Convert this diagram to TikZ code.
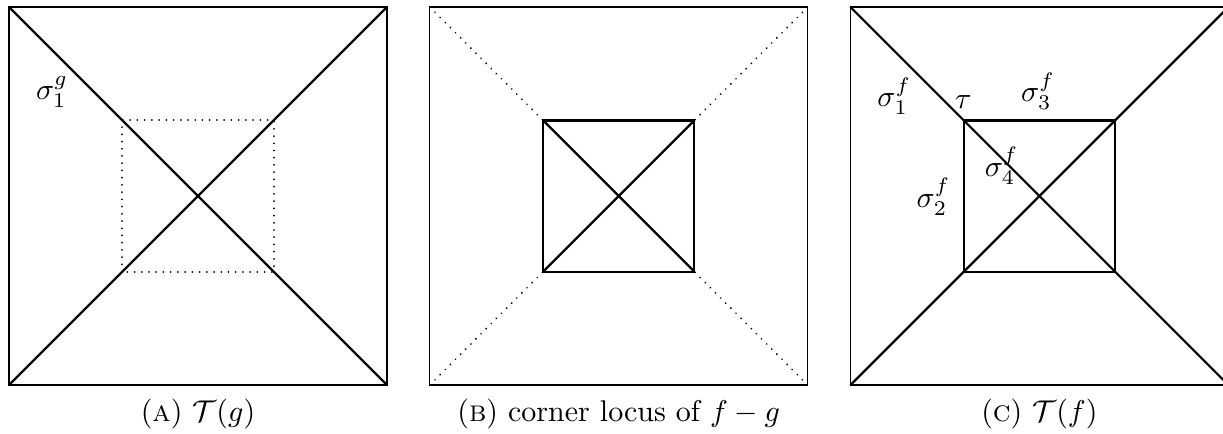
\documentclass[tikz,border=0pt]{standalone}
\usetikzlibrary{positioning,calc}
\begin{document}
\begin{tikzpicture}[x=0.886cm,y=0.886cm,
  outerbox/.style={line width=0.4pt},
  edge/.style={line width=0.75pt},
  dots/.style={line width=0.65pt,dash pattern=on 0.01pt off 2.4pt,line cap=round},
  lab/.style={inner sep=0pt}]
\useasboundingbox (-2.619,-3.135) rectangle (13.558,2.593);
% corners of the outer and inner squares of each panel
\foreach \p/\x in {A/0,B/5.565,C/11.13}{
  \coordinate (\p-c) at (\x,0);
  \coordinate (\p-sw) at (\x-2.5,-2.5);
  \coordinate (\p-se) at (\x+2.5,-2.5);
  \coordinate (\p-ne) at (\x+2.5,2.5);
  \coordinate (\p-nw) at (\x-2.5,2.5);
  \coordinate (\p-isw) at (\x-1,-1);
  \coordinate (\p-ise) at (\x+1,-1);
  \coordinate (\p-ine) at (\x+1,1);
  \coordinate (\p-inw) at (\x-1,1);
}
% panel A
\draw[outerbox] (A-sw) rectangle (A-ne);
\draw[edge] (A-sw) -- (A-ne);
\draw[edge] (A-nw) -- (A-se);
\draw[dots] (A-isw) rectangle (A-ine);
\node[lab] (sg1) at (-1.93,1.38) {$\sigma_1^g$};
\node[anchor=base] (capA) at (0,-2.976) {(\textsc{a}) $\mathcal{T}(g)$};
% panel B
\draw[outerbox] (B-sw) rectangle (B-ne);
\draw[edge] (B-isw) rectangle (B-ine);
\draw[edge] (B-isw) -- (B-ine);
\draw[edge] (B-inw) -- (B-ise);
\draw[dots,shorten <=2.5pt] (B-nw) -- (B-inw);
\draw[dots,shorten <=2.5pt] (B-ne) -- (B-ine);
\draw[dots,shorten <=2.5pt] (B-sw) -- (B-isw);
\draw[dots,shorten <=2.5pt] (B-se) -- (B-ise);
\node[anchor=base] (capB) at (5.565,-2.976) {(\textsc{b}) corner locus of $f-g$};
% panel C
\draw[outerbox] (C-sw) rectangle (C-ne);
\draw[edge] (C-sw) -- (C-ne);
\draw[edge] (C-nw) -- (C-se);
\draw[edge] (C-isw) rectangle (C-ine);
\node[lab] (sf1) at (9.21,1.32) {$\sigma_1^f$};
\node[lab] (tau) at (10.125,1.24) {$\tau$};
\node[lab] (sf3) at (11.11,1.39) {$\sigma_3^f$};
\node[lab] (sf4) at (10.63,0.40) {$\sigma_4^f$};
\node[lab] (sf2) at (9.73,-0.01) {$\sigma_2^f$};
\node[anchor=base] (capC) at (11.13,-2.976) {(\textsc{c}) $\mathcal{T}(f)$};
\end{tikzpicture}
\end{document}
